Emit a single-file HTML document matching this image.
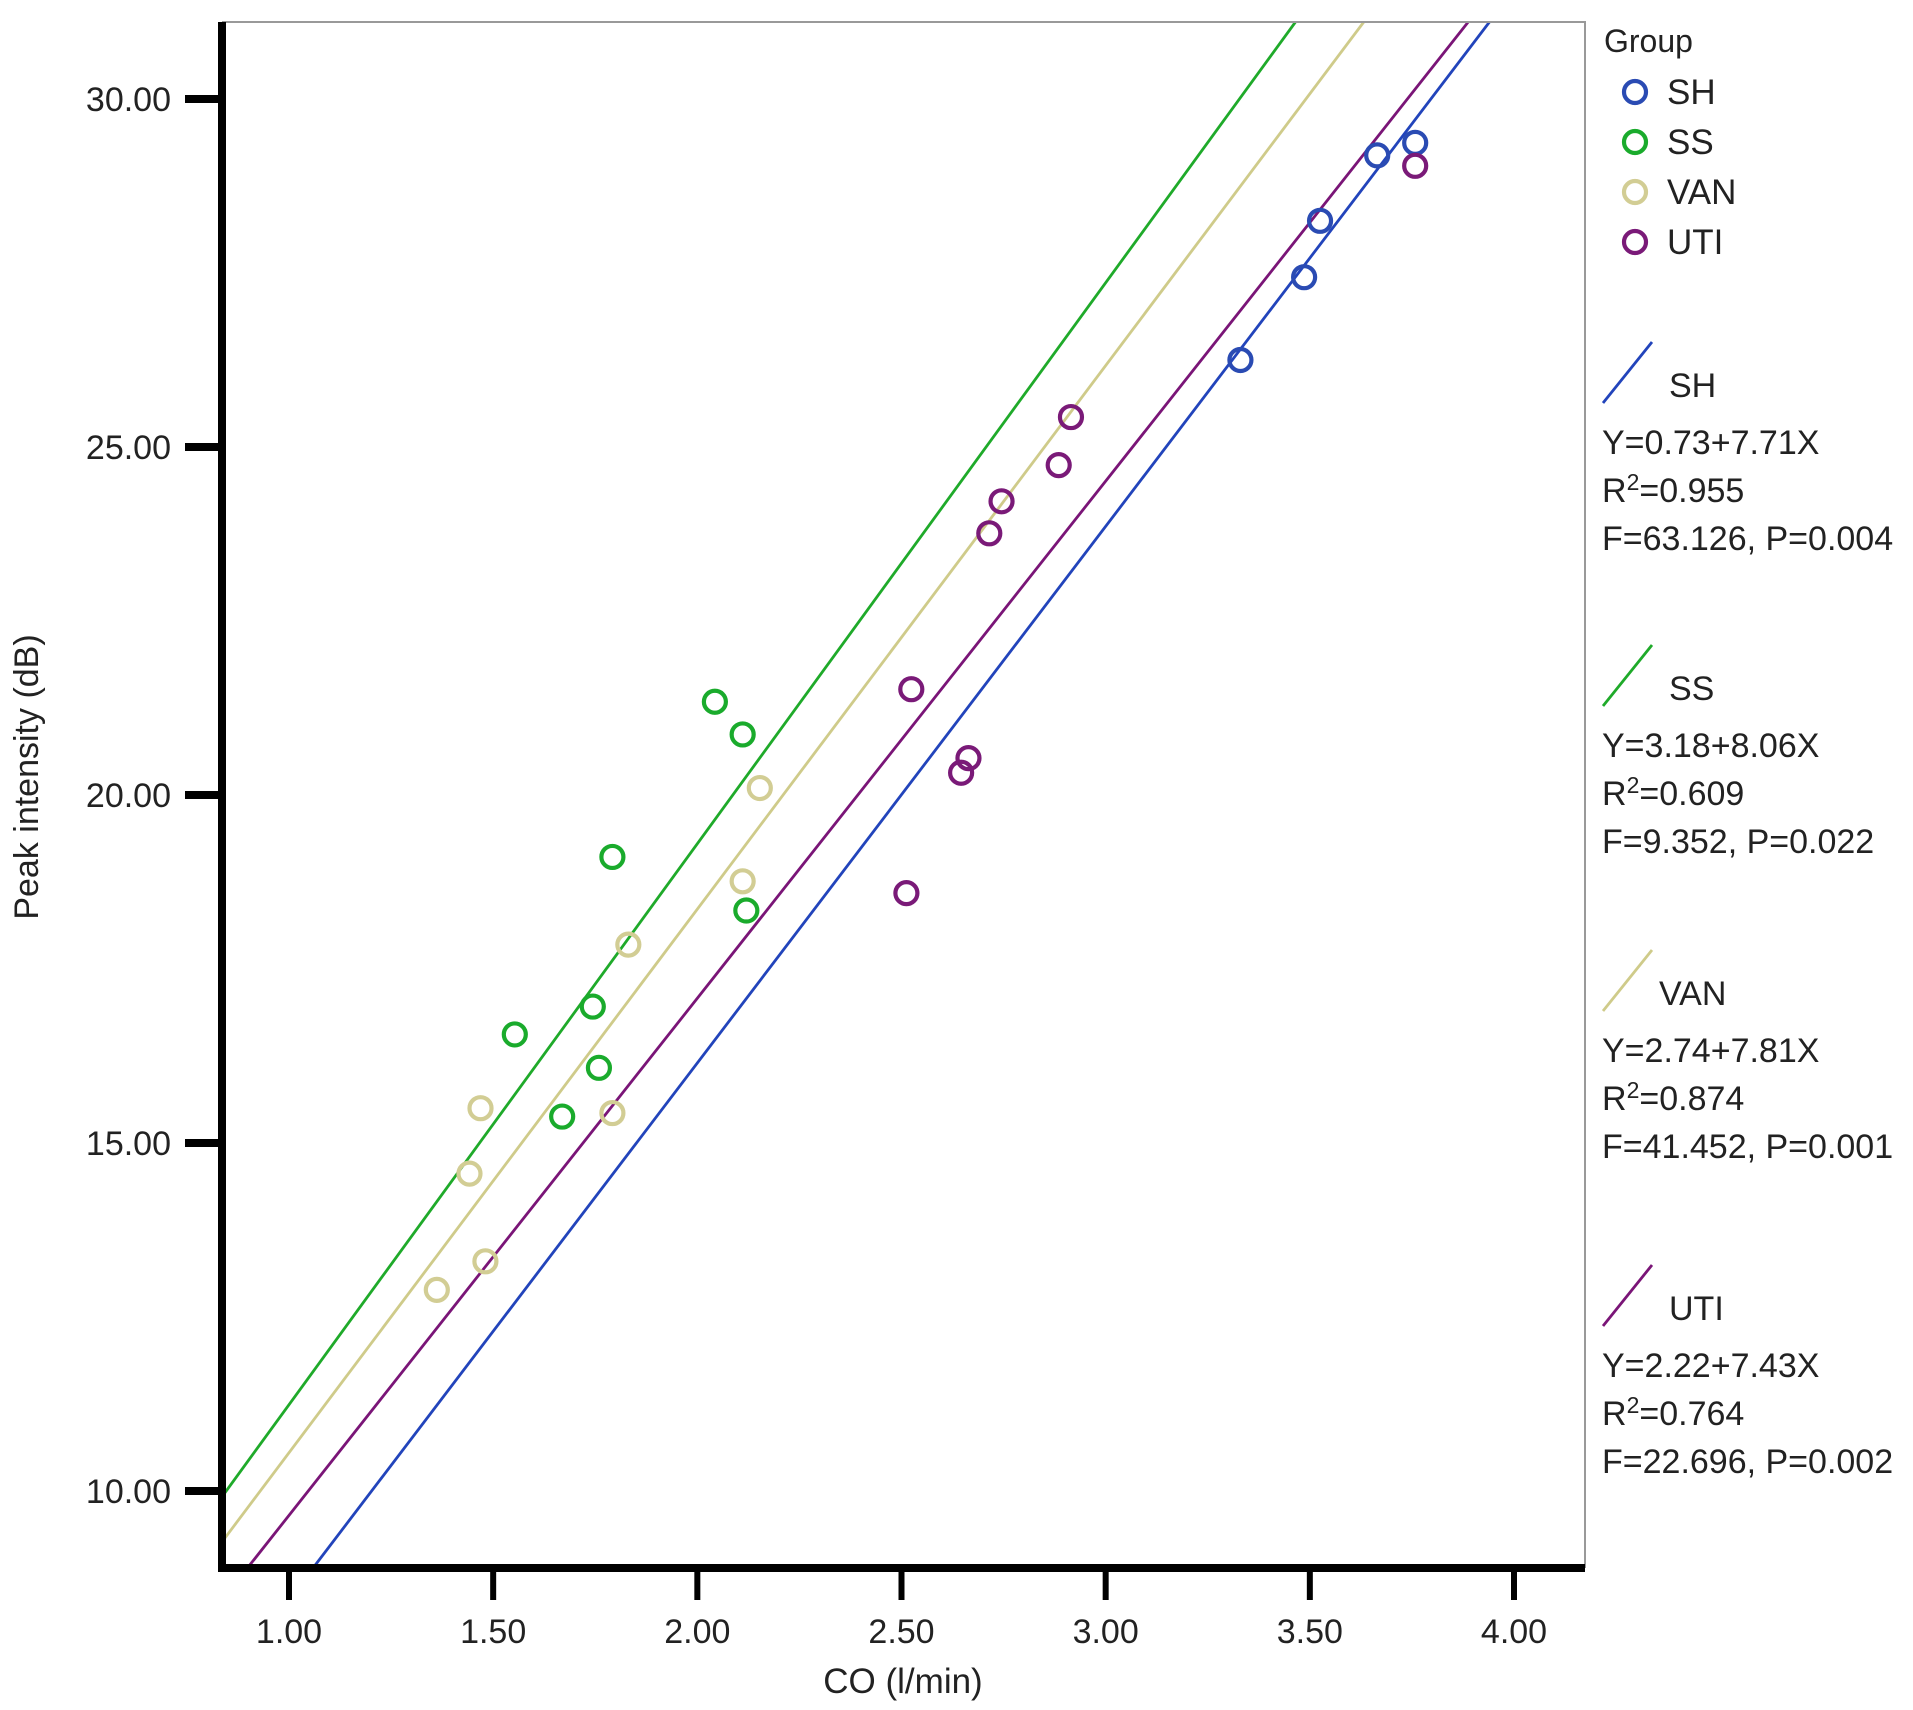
<!DOCTYPE html>
<html><head><meta charset="utf-8"><style>
html,body{margin:0;padding:0;background:#fff;}
svg{display:block;font-family:"Liberation Sans",Arial,sans-serif;}
</style></head><body>
<svg id="chart" width="1913" height="1710" viewBox="0 0 1913 1710">
<g id="lines"></g>
<g id="points"></g>
<g id="axes"></g>
<g id="legend"></g>
</svg>
<script>
const groups = ["SH","SS","VAN","UTI"];
const colors = ["#2a4bb3","#1aab2c","#d2cd94","#7a1a78"];
const lineColors = ["#2244bb","#1faa2a","#cfcb8a","#7a1577"];
const shX = [3.33,3.486,3.525,3.665,3.758];
const shY = [26.25,27.44,28.25,29.19,29.37];
const ssX = [2.043,2.111,1.792,2.120,1.553,1.744,1.759,1.669];
const ssY = [21.34,20.87,19.11,18.34,16.56,16.96,16.08,15.38];
const vanX = [2.153,2.111,1.831,1.469,1.792,1.442,1.481,1.362];
const vanY = [20.10,18.76,17.85,15.50,15.43,14.56,13.30,12.89];
const utiX = [2.915,2.885,2.745,2.715,2.524,2.664,2.646,2.512,3.758];
const utiY = [25.43,24.74,24.22,23.76,21.52,20.53,20.32,18.59,29.04];
const intercepts = [0.73,3.18,2.74,2.22];
const slopes = [7.71,8.06,7.81,7.43];
const r2 = ["0.955","0.609","0.874","0.764"];
const fstat = ["63.126","9.352","41.452","22.696"];
const pval = ["0.004","0.022","0.001","0.002"];
const xTicks = [1.0,1.5,2.0,2.5,3.0,3.5,4.0];
const yTicks = [10,15,20,25,30];

const NS="http://www.w3.org/2000/svg";
const L=222,R=1585,T=22,B=1568;
function sx(v){return 289+(v-1)*(1514-289)/3;}
function sy(v){return 1491-(v-10)*(1491-99)/20;}
const xMin=1+(L-289)/((1514-289)/3), xMax=1+(R-289)/((1514-289)/3);
const yMin=10-(B-1491)/((1491-99)/20), yMax=10+(1491-T)/((1491-99)/20);
function mk(tag,attrs,parent){const e=document.createElementNS(NS,tag);for(const k in attrs)e.setAttribute(k,attrs[k]);parent.appendChild(e);return e;}
const gl=document.getElementById('lines'),gp=document.getElementById('points'),ga=document.getElementById('axes'),gg=document.getElementById('legend');

let fr=mk('path',{d:`M${L} ${T}H${R}V${B}`,fill:'none',stroke:'#999','stroke-width':2},ga);



mk('clipPath',{id:'clip'},document.getElementById('chart'));
mk('rect',{x:L,y:T,width:R-L,height:B-T},document.getElementById('clip'));
gl.setAttribute('clip-path','url(#clip)');
groups.forEach((g,i)=>{
  const a=intercepts[i],b=slopes[i];
  let x1=Math.max(xMin,(yMin-a)/b), x2=Math.min(xMax,(yMax-a)/b);
  const ln=mk('line',{x1:sx(x1),y1:sy(a+b*x1),x2:sx(x2),y2:sy(a+b*x2),stroke:lineColors[i],'stroke-width':2.8},gl);
  
  
});

const allX=[shX,ssX,vanX,utiX], allY=[shY,ssY,vanY,utiY];
groups.forEach((g,i)=>{
  allX[i].forEach((xv,j)=>{
    const c=mk('circle',{cx:sx(xv),cy:sy(allY[i][j]),r:11,fill:'none',stroke:colors[i],'stroke-width':4.2},gp);
    
    
  });
});

let ya=mk('rect',{x:L-4,y:T,width:8,height:B-T+4,fill:'#000'},ga);


let xa=mk('rect',{x:L-4,y:B-4,width:R-L+4,height:8,fill:'#000'},ga);


yTicks.forEach(v=>{
  const t=mk('rect',{x:185,y:sy(v)-4,width:L-185,height:8,fill:'#000'},ga);
  
  
  const tx=mk('text',{x:171,y:sy(v)+12,'text-anchor':'end','font-size':34,fill:'#222'},ga);
  tx.textContent=v.toFixed(2);
  
  
});
xTicks.forEach(v=>{
  const t=mk('rect',{x:sx(v)-3,y:B,width:6,height:32,fill:'#000'},ga);
  
  
  const tx=mk('text',{x:sx(v),y:1643,'text-anchor':'middle','font-size':34,fill:'#222'},ga);
  tx.textContent=v.toFixed(2);
  
  
});
let xt=mk('text',{x:903,y:1693,'text-anchor':'middle','font-size':35,fill:'#222'},ga);
xt.textContent='CO (l/min)';


let yt=mk('text',{x:0,y:0,'text-anchor':'middle','font-size':34,fill:'#222',transform:'translate(38,777) rotate(-90)'},ga);
yt.textContent='Peak intensity (dB)';



let gt=mk('text',{x:1604,y:52,'font-size':32,fill:'#222'},gg);
gt.textContent='Group';


groups.forEach((g,i)=>{
  const cy=92+i*50;
  const c=mk('circle',{cx:1635,cy:cy,r:11,fill:'none',stroke:colors[i],'stroke-width':4.2},gg);
  
  
  const t=mk('text',{x:1667,y:cy+12,'font-size':35,fill:'#222'},gg);
  t.textContent=g;
  
  
});
const blockTop=[342,645,950,1265];
groups.forEach((g,i)=>{
  const y0=blockTop[i];
  const ln=mk('line',{x1:1603,y1:y0+61,x2:1652,y2:y0,stroke:lineColors[i],'stroke-width':2.8},gg);
  
  
  const lab=mk('text',{x:(g==='VAN'?1659:1669),y:y0+55,'font-size':34,fill:'#222'},gg);
  lab.textContent=g;
  
  
  const e1=mk('text',{x:1602,y:y0+112,'font-size':34,fill:'#222'},gg);
  e1.textContent='Y='+intercepts[i].toFixed(2)+'+'+slopes[i].toFixed(2)+'X';
  
  
  const e2=mk('text',{x:1602,y:y0+160,'font-size':34,fill:'#222'},gg);
  e2.innerHTML='R<tspan dy="-12" font-size="23">2</tspan><tspan dy="12">='+r2[i]+'</tspan>';
  
  
  const e3=mk('text',{x:1602,y:y0+208,'font-size':34,fill:'#222'},gg);
  e3.textContent='F='+fstat[i]+', P='+pval[i];
  
  
});
</script>
</body></html>
